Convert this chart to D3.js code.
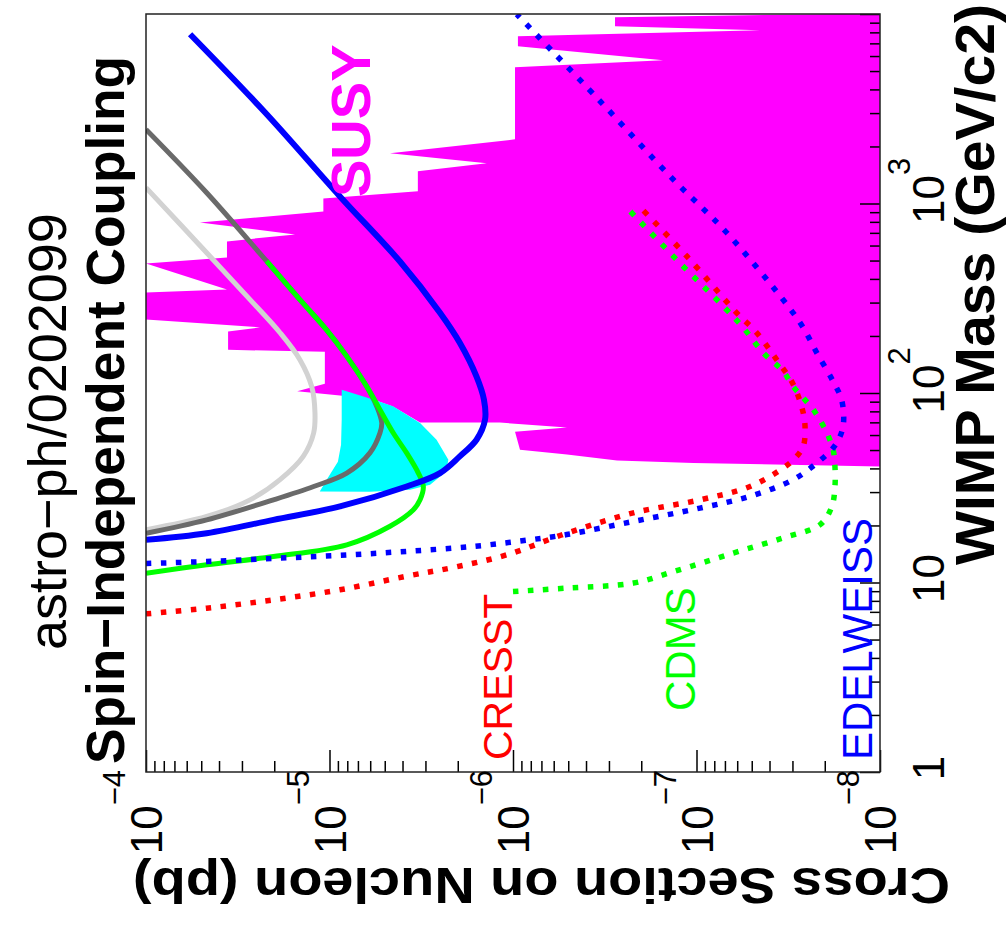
<!DOCTYPE html>
<html>
<head>
<meta charset="utf-8">
<script src="https://cdn.jsdelivr.net/npm/d3@7"></script>
<style>
  html, body { margin: 0; padding: 0; background: #ffffff; }
  svg { display: block; font-family: "Liberation Sans", Arial, Helvetica, sans-serif; }
</style>
</head>
<body>
<svg id="chart" width="1007" height="929"></svg>
<script>
// ---- Data: [WIMP mass (GeV/c2), cross section on nucleon (pb)] ----

// Supersymmetric model region
const susyRegion = [
  [1e4, 1e-8], [41.0, 1e-8], [42.7, 1.04e-7], [44.1, 2.71e-7], [47.3, 5.08e-7], [50.2, 9.16e-7],
  [62.5, 9.75e-7], [65.7, 5.08e-7], [69.8, 1.18e-6], [69.8, 3.21e-6], [84.8, 4.51e-6], [92.3, 5.79e-6],
  [96.9, 8.77e-6], [102, 1.50e-5], [112, 1.06e-5], [165, 1.06e-5], [169, 3.57e-5], [211, 3.57e-5],
  [222, 2.39e-5], [244, 1e-4], [339, 1e-4], [352, 3.62e-5], [483, 1e-4], [519, 3.62e-5], [631, 3.62e-5],
  [687, 1.54e-5], [794, 5.08e-5], [908, 1.08e-5], [1064, 1.08e-5], [1160, 3.30e-6], [1480, 3.30e-6],
  [1630, 1.39e-6], [1840, 4.68e-6], [2180, 9.75e-7], [5240, 9.75e-7], [5700, 1.52e-7], [6760, 9.40e-7],
  [7630, 9.40e-7], [8210, 4.51e-8], [8620, 2.78e-7], [9620, 2.78e-7], [1e4, 1.65e-8]
];

// DAMA annual-modulation region
const damaRegion = [
  [104, 8.58e-6], [92.3, 5.79e-6], [85.1, 4.51e-6], [69.5, 3.21e-6], [56.7, 2.61e-6], [44.5, 2.25e-6],
  [38.4, 2.32e-6], [32.8, 2.83e-6], [30.9, 3.64e-6], [30.1, 6.02e-6], [30.2, 1.13e-5], [35.7, 1.02e-5],
  [43.4, 9.0e-6], [53.4, 8.65e-6], [72.4, 8.58e-6]
];

// Solid exclusion curves
const lightGraySolid = [
  [19.0, 1.0e-4], [22.3, 4.67e-5], [27.3, 2.71e-5], [34.9, 1.86e-5], [46.3, 1.39e-5], [61.5, 1.22e-5],
  [78.5, 1.20e-5], [108, 1.25e-5], [150, 1.45e-5], [208, 1.86e-5], [311, 2.71e-5], [550, 4.67e-5], [1212, 1.0e-4]
];
const darkGraySolid = [
  [18.2, 1.0e-4], [21.4, 4.67e-5], [27.3, 2.02e-5], [32.1, 1.22e-5], [37.8, 8.05e-6], [48.3, 6.02e-6],
  [61.5, 5.31e-6], [69.5, 5.19e-6], [85.1, 5.53e-6], [108, 6.26e-6], [156, 8.05e-6], [216, 1.04e-5],
  [311, 1.45e-5], [496, 2.20e-5], [1140, 4.67e-5], [2460, 1.0e-4]
];
const greenSolid = [
  [11.2, 1.0e-4], [12.4, 4.67e-5], [13.7, 2.02e-5], [15.8, 8.05e-6], [19.8, 4.68e-6], [24.2, 3.49e-6],
  [27.3, 3.21e-6], [32.1, 3.08e-6], [37.8, 3.28e-6], [48.3, 3.80e-6], [61.5, 4.49e-6], [81.7, 5.31e-6],
  [108, 6.26e-6], [156, 8.05e-6], [216, 1.04e-5], [311, 1.45e-5], [496, 2.20e-5]
];
const blueSolid = [
  [16.8, 1.0e-4], [18.2, 4.67e-5], [21.4, 2.02e-5], [25.2, 8.77e-6], [32.1, 3.80e-6], [37.8, 2.50e-6],
  [46.3, 1.95e-6], [56.7, 1.58e-6], [72.4, 1.42e-6], [92.3, 1.44e-6], [122, 1.58e-6], [184, 1.95e-6],
  [265, 2.50e-6], [494, 4.13e-6], [1090, 8.77e-6], [3030, 2.25e-5], [7820, 5.75e-5]
];

// Dotted experimental limits
const cresstLimit = [
  [6.83, 1.0e-4], [7.32, 4.67e-5], [8.10, 2.02e-5], [9.15, 8.77e-6], [10.8, 3.80e-6], [12.1, 2.03e-6],
  [14.0, 1.08e-6], [18.2, 5.10e-7], [23.3, 2.21e-7], [27.3, 9.57e-8], [32.1, 5.11e-8], [40.2, 3.37e-8],
  [45.4, 2.90e-8], [52.3, 2.62e-8], [64.1, 2.56e-8], [78.5, 2.62e-8], [111, 2.97e-8], [150, 3.66e-8],
  [208, 4.70e-8], [265, 6.04e-8], [527, 1.13e-7], [919, 1.95e-7]
];
const cdmsLimit = [
  [8.96, 1.0e-6], [9.34, 5.10e-7], [9.93, 2.21e-7], [11.4, 1.34e-7], [14.3, 6.30e-8], [17.2, 3.37e-8],
  [20.2, 2.12e-8], [25.2, 1.83e-8], [32.1, 1.76e-8], [41.0, 1.76e-8], [50.2, 1.80e-8], [59.1, 1.91e-8],
  [69.5, 2.08e-8], [81.7, 2.31e-8], [94.2, 2.62e-8], [108, 2.97e-8], [130, 3.37e-8], [163, 4.33e-8],
  [221, 5.56e-8], [287, 7.15e-8], [477, 1.21e-7], [931, 2.35e-7]
];
const edelweissLimit = [
  [12.6, 1.0e-4], [12.9, 4.67e-5], [13.4, 2.02e-5], [13.9, 8.77e-6], [14.6, 3.80e-6], [15.5, 1.65e-6],
  [16.8, 8.08e-7], [17.9, 5.10e-7], [21.0, 2.21e-7], [24.7, 9.57e-8], [28.5, 5.11e-8], [34.9, 2.97e-8],
  [42.7, 2.21e-8], [51.3, 1.80e-8], [59.1, 1.65e-8], [69.5, 1.58e-8], [92.3, 1.62e-8], [115, 1.80e-8],
  [163, 2.21e-8], [221, 2.62e-8], [293, 3.22e-8], [701, 6.84e-8], [1340, 1.34e-7], [3475, 3.36e-7],
  [9970, 9.54e-7]
];

// Axis ticks and labels
const sigmaTickValues = [1e-4, 1e-5, 1e-6, 1e-7, 1e-8];
const sigmaTickExponents = ["\u22124", "\u22125", "\u22126", "\u22127", "\u22128"];
const massTickValues = [1, 10, 100, 1000];
const massTickBases = ["1", "10", "10", "10"];
const massTickExponents = ["", "", "2", "3"];

// ---- Layout: mass runs up the page, cross section decreases to the right ----
const frame = { left: 146, right: 880, top: 14, bottom: 772 };
const svg = d3.select("#chart");

const xSigma = d3.scaleLog().domain([1e-4, 1e-8]).range([frame.left, frame.right]);
const yMass = d3.scaleLog().domain([1, 1e4]).range([frame.bottom, frame.top]);

svg.append("defs").append("clipPath").attr("id", "plotClip")
  .append("rect")
  .attr("x", frame.left).attr("y", frame.top)
  .attr("width", frame.right - frame.left).attr("height", frame.bottom - frame.top);

const plot = svg.append("g").attr("clip-path", "url(#plotClip)");

const area = d3.line().x(d => xSigma(d[1])).y(d => yMass(d[0])).curve(d3.curveLinearClosed);
const smooth = d3.line().x(d => xSigma(d[1])).y(d => yMass(d[0])).curve(d3.curveCatmullRom.alpha(0.5));

plot.append("path").datum(susyRegion).attr("d", area).attr("fill", "#ff00ff");
plot.append("path").datum(damaRegion).attr("d", area).attr("fill", "#00ffff");

const solids = [
  { data: lightGraySolid, color: "#d2d2d2", w: 5 },
  { data: darkGraySolid, color: "#6a6a6a", w: 5 },
  { data: greenSolid, color: "#00ff00", w: 5 },
  { data: blueSolid, color: "#0000ff", w: 6 }
];
solids.forEach(s => {
  plot.append("path").datum(s.data).attr("d", smooth)
    .attr("fill", "none").attr("stroke", s.color).attr("stroke-width", s.w)
    .attr("stroke-linejoin", "round");
});

const dotted = [
  { data: cresstLimit, color: "#ff0000" },
  { data: cdmsLimit, color: "#00ff00" },
  { data: edelweissLimit, color: "#0000ff" }
];
dotted.forEach(s => {
  plot.append("path").datum(s.data).attr("d", smooth)
    .attr("fill", "none").attr("stroke", s.color).attr("stroke-width", 5.5)
    .attr("stroke-dasharray", "5.5 9.5");
});

// ---- Axes (ticks point into the frame) ----
const minorSigma = xSigma.ticks().filter(v => !sigmaTickValues.some(m => Math.abs(v / m - 1) < 1e-6));
const minorMass = yMass.ticks().filter(v => ![1, 10, 100, 1000, 10000].some(m => Math.abs(v / m - 1) < 1e-6));

function styleAxis(g) {
  g.select(".domain").remove();
  g.selectAll(".tick line").attr("stroke", "#000").attr("stroke-width", 1.5);
  g.selectAll(".tick text").remove();
}

svg.append("g").attr("transform", `translate(0,${frame.bottom})`)
  .call(d3.axisBottom(xSigma).tickValues(sigmaTickValues).tickSizeInner(-22).tickSizeOuter(0).tickFormat(""))
  .call(styleAxis);
svg.append("g").attr("transform", `translate(0,${frame.bottom})`)
  .call(d3.axisBottom(xSigma).tickValues(minorSigma).tickSizeInner(-11).tickSizeOuter(0).tickFormat(""))
  .call(styleAxis);
svg.append("g").attr("transform", `translate(${frame.right},0)`)
  .call(d3.axisRight(yMass).tickValues([1, 10, 100, 1000, 10000]).tickSizeInner(-20).tickSizeOuter(0).tickFormat(""))
  .call(styleAxis);
svg.append("g").attr("transform", `translate(${frame.right},0)`)
  .call(d3.axisRight(yMass).tickValues(minorMass).tickSizeInner(-10).tickSizeOuter(0).tickFormat(""))
  .call(styleAxis);

// Frame
svg.append("rect")
  .attr("x", frame.left).attr("y", frame.top)
  .attr("width", frame.right - frame.left).attr("height", frame.bottom - frame.top)
  .attr("fill", "none").attr("stroke", "#222").attr("stroke-width", 1.5);

// Cross-section tick labels (below the frame, reading upwards)
sigmaTickValues.forEach((v, i) => {
  const t = svg.append("text")
    .attr("transform", `translate(${xSigma(v)},770) rotate(-90)`)
    .attr("text-anchor", "end").attr("y", 16)
    .attr("font-size", 44).attr("fill", "#000");
  t.append("tspan").text("10");
  t.append("tspan").attr("font-size", 31).attr("dy", -37).text(sigmaTickExponents[i]);
});

// Mass tick labels (right of the frame, reading upwards)
massTickValues.forEach((v, i) => {
  const base = massTickBases[i];
  const bw = base.length * 0.556 * 44;
  const t = svg.append("text")
    .attr("transform", `translate(944,${yMass(v)}) rotate(-90)`)
    .attr("text-anchor", "start").attr("x", 4 - bw / 2)
    .attr("font-size", 44).attr("fill", "#000");
  t.append("tspan").text(base);
  if (massTickExponents[i]) {
    t.append("tspan").attr("font-size", 31).attr("dy", -34).text(massTickExponents[i]);
  }
});

// Axis titles
svg.append("text")
  .attr("transform", "translate(994,4) rotate(-90)")
  .attr("text-anchor", "end").attr("font-size", 55).attr("font-weight", "bold")
  .attr("textLength", 561).attr("lengthAdjust", "spacingAndGlyphs")
  .text("WIMP Mass (GeV/c2)");

svg.append("text")
  .attr("transform", "translate(133,868) rotate(180)")
  .attr("text-anchor", "end").attr("font-size", 50).attr("font-weight", "bold")
  .attr("textLength", 817).attr("lengthAdjust", "spacingAndGlyphs")
  .text("Cross Section on Nucleon (pb)");

// Titles
svg.append("text")
  .attr("transform", "translate(124,764) rotate(-90)")
  .attr("text-anchor", "start").attr("font-size", 54).attr("font-weight", "bold")
  .attr("textLength", 708).attr("lengthAdjust", "spacingAndGlyphs")
  .text("Spin\u2212Independent Coupling");

svg.append("text")
  .attr("transform", "translate(66,650) rotate(-90)")
  .attr("text-anchor", "start").attr("font-size", 54)
  .text("astro\u2212ph/0202099");

// Curve labels
const curveLabels = [
  { text: "SUSY", x: 370, y: 197, size: 56, color: "#ff00ff", weight: "bold" },
  { text: "CRESST", x: 512, y: 760, size: 41, color: "#ff0000", weight: "normal" },
  { text: "CDMS", x: 695, y: 711, size: 42, color: "#00ff00", weight: "normal" },
  { text: "EDELWEISS", x: 872, y: 760, size: 42, color: "#0000ff", weight: "normal" }
];
curveLabels.forEach(l => {
  svg.append("text")
    .attr("transform", `translate(${l.x},${l.y}) rotate(-90)`)
    .attr("text-anchor", "start").attr("font-size", l.size).attr("fill", l.color)
    .attr("font-weight", l.weight)
    .text(l.text);
});
</script>
</body>
</html>
